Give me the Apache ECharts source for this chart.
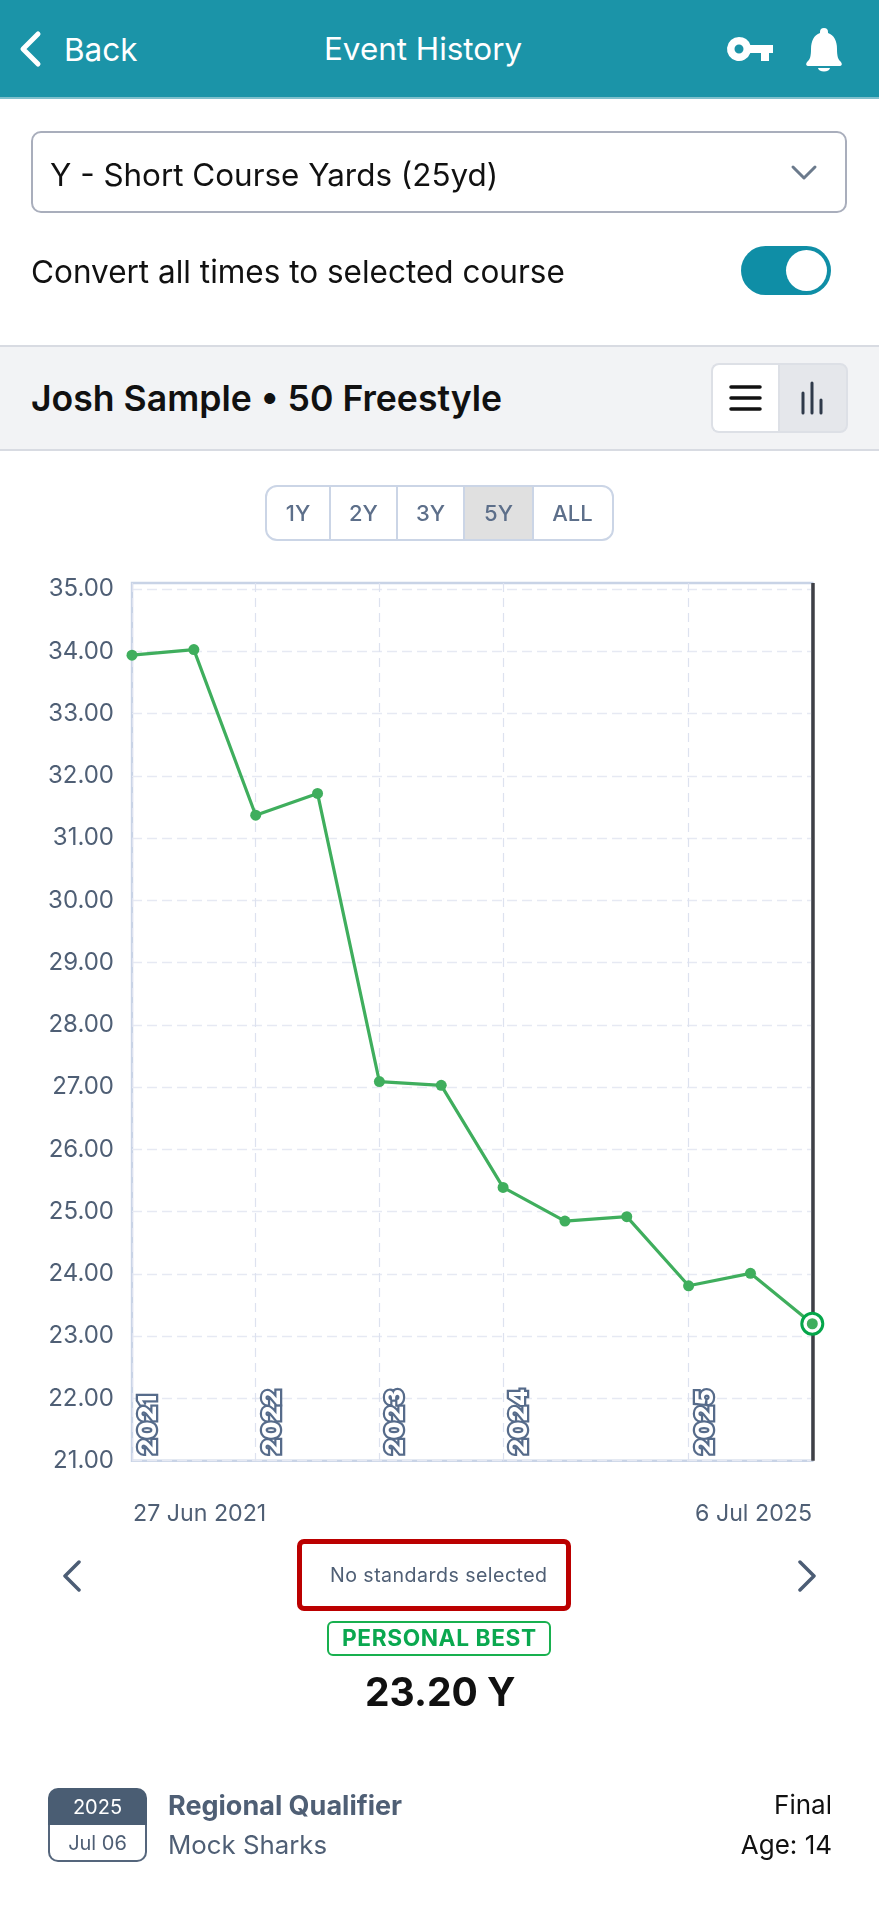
<!DOCTYPE html>
<html><head><meta charset="utf-8">
<script src="https://cdn.jsdelivr.net/npm/echarts@6/dist/echarts.min.js"></script>
<style>
html,body{margin:0;padding:0;background:#fff;width:879px;height:1910px;overflow:hidden;font-family:Inter,sans-serif}
.a{position:absolute;white-space:nowrap}
.t{position:absolute;white-space:nowrap;transform:translateY(-50%);line-height:1}
#chart{position:absolute;left:0;top:0;width:879px;height:1910px}
</style></head><body>
<div id="chart"></div>
<div class="a" style="left:0;top:0;width:879px;height:97px;background:#1b94a8;border-bottom:2px solid #7fc0cc"></div>
<svg class="a" style="left:0;top:0" width="879" height="98">
<path d="M38 34 L23 49 L38 64" fill="none" stroke="#fff" stroke-width="5" stroke-linecap="round" stroke-linejoin="round"/>
<path fill="#fff" fill-rule="evenodd" d="M739 37a12 12 0 0 1 11.3 8H773v8h-4v8h-8v-8h-10.700a12 12 0 1 1-11.300-16zm0 7.500a4.500 4.500 0 1 0 0 9 4.500 4.500 0 0 0 0-9z"/>
<path fill="#fff" d="M824 28a4 4 0 0 1 4 4v1c6 2 9 8 9 16 0 7 1 10 3 12 3 3 2 5-1 5h-30c-3 0-4-2-1-5 2-2 3-5 3-12 0-8 3-14 9-16v-1a4 4 0 0 1 4-4z M818 68h12a6 3.500 0 0 1-12 0z"/>
</svg>
<div class="t" style="left:64px;top:50px;color:#fff;font-size:31.5px;">Back</div>
<div class="t" style="left:324px;top:50px;color:#fff;font-size:31.4px;">Event History</div>

<div class="a" style="left:31px;top:131px;width:812px;height:78px;border:2px solid #a9aebc;border-radius:10px"></div>
<div class="t" style="left:50px;top:176px;color:#111;font-size:31.4px;">Y - Short Course Yards (25yd)</div>
<svg class="a" style="left:782px;top:155px" width="40" height="40"><path d="M11 12 L22 23 L33 12" fill="none" stroke="#6b7a8c" stroke-width="3" stroke-linecap="round" stroke-linejoin="round"/></svg>
<div class="t" style="left:31px;top:272px;color:#111;font-size:31.5px;">Convert all times to selected course</div>
<div class="a" style="left:741px;top:246px;width:90px;height:49px;border-radius:25px;background:#0f8ea6"></div>
<div class="a" style="left:786px;top:250px;width:41px;height:41px;border-radius:50%;background:#fff"></div>

<div class="a" style="left:0;top:345px;width:879px;height:102px;background:#f2f3f5;border-top:2px solid #d8dbe2;border-bottom:2px solid #d8dbe2"></div>
<div class="t" style="left:31px;top:399px;color:#111;font-size:35.6px;font-weight:600;">Josh Sample • 50 Freestyle</div>
<div class="a" style="left:711px;top:363px;width:67px;height:66px;background:#fff;border:2px solid #dde0e6;border-right:none;border-radius:8px 0 0 8px"></div>
<div class="a" style="left:778px;top:363px;width:66px;height:66px;background:#e5e7eb;border:2px solid #dde0e6;border-radius:0 8px 8px 0"></div>
<svg class="a" style="left:711px;top:363px" width="135" height="70">
<path d="M20 24H49M20 35H49M20 46H49" stroke="#111" stroke-width="3.500" stroke-linecap="round"/>
<path d="M92 30V50M101 20V50M110 37V50" stroke="#2f3a4a" stroke-width="3" stroke-linecap="round"/>
</svg>

<div class="a" style="left:265px;top:485px;width:345px;height:52px;border:2px solid #cbd5e6;border-radius:12px"></div>
<div class="a" style="left:465px;top:487px;width:67px;height:52px;background:#e0e0e0"></div>
<div class="a" style="left:329px;top:486px;width:2px;height:54px;background:#cbd5e6"></div>
<div class="a" style="left:396px;top:486px;width:2px;height:54px;background:#cbd5e6"></div>
<div class="a" style="left:463px;top:486px;width:2px;height:54px;background:#cbd5e6"></div>
<div class="a" style="left:532px;top:486px;width:2px;height:54px;background:#cbd5e6"></div>
<div class="t" style="left:267px;width:62px;text-align:center;top:513px;color:#5d6f8a;font-size:22px;font-weight:500">1Y</div>
<div class="t" style="left:331px;width:65px;text-align:center;top:513px;color:#5d6f8a;font-size:22px;font-weight:500">2Y</div>
<div class="t" style="left:398px;width:65px;text-align:center;top:513px;color:#5d6f8a;font-size:22px;font-weight:500">3Y</div>
<div class="t" style="left:465px;width:67px;text-align:center;top:513px;color:#5d6f8a;font-size:22px;font-weight:500">5Y</div>
<div class="t" style="left:534px;width:77px;text-align:center;top:513px;color:#5d6f8a;font-size:22px;font-weight:500">ALL</div>

<svg class="a" style="left:0;top:1550px" width="879" height="50">
<path d="M79 12 L65 26 L79 40 M800 12 L814 26 L800 40" fill="none" stroke="#4c5d75" stroke-width="3.500" stroke-linecap="round" stroke-linejoin="round"/>
</svg>
<div class="a" style="left:297px;top:1539px;width:264px;height:62px;border:5px solid #bb0000;border-radius:7px"></div>
<div class="t" style="left:330px;top:1576px;color:#4f5f75;font-size:19.6px;letter-spacing:.45px">No standards selected</div>
<div class="a" style="left:327px;top:1621px;width:220px;height:31px;border:2px solid #18b04f;border-radius:6px"></div>
<div class="t" style="left:342px;top:1638px;color:#0aa84f;font-size:22.700px;font-weight:700;letter-spacing:.6px">PERSONAL BEST</div>
<div class="t" style="left:365px;top:1691px;color:#111;font-size:39px;font-weight:700">23.20 Y</div>

<div class="a" style="left:48px;top:1788px;width:99px;height:37px;background:#4a5d73;border-radius:10px 10px 0 0"></div>
<div class="a" style="left:48px;top:1825px;width:95px;height:35px;border:2px solid #55667c;border-top:none;border-radius:0 0 10px 10px"></div>
<div class="t" style="left:48px;width:99px;text-align:center;top:1807px;color:#fff;font-size:20px">2025</div>
<div class="t" style="left:48px;width:99px;text-align:center;top:1843px;color:#4f5f75;font-size:20px">Jul 06</div>
<div class="t" style="left:168px;top:1805px;color:#4f5f75;font-size:27px;font-weight:700">Regional Qualifier</div>
<div class="t" style="left:168px;top:1845px;color:#4f5f75;font-size:25.800px">Mock Sharks</div>
<div class="t" style="right:47px;top:1805px;color:#111;font-size:26px">Final</div>
<div class="t" style="right:47px;top:1845px;color:#111;font-size:26px">Age: 14</div>

<script>
const yearCategories = ['2021','','2022','','2023','','2024','','','2025','',''];
const times = [33.94,34.03,31.37,31.72,27.09,27.03,25.39,24.85,24.92,23.81,24.01,23.20];
const yTickLabels = ['21.00','22.00','23.00','24.00','25.00','26.00','27.00','28.00','29.00','30.00','31.00','32.00','33.00','34.00','35.00'];
const rangeLabels = ['27 Jun 2021','6 Jul 2025'];
const lastIndex = times.length - 1;
const green = '#3fae5d';

const chart = echarts.init(document.getElementById('chart'),null,{renderer:'canvas'});
chart.setOption({
  animation:false,
  textStyle:{fontFamily:'Inter'},
  grid:{left:132,top:583,right:66.7,bottom:449.3,show:true,borderColor:'#c8d3e6',borderWidth:2.4,backgroundColor:'transparent'},
  xAxis:{
    type:'category',boundaryGap:false,data:yearCategories,
    axisLine:{show:false},axisTick:{show:false},
    splitLine:{show:true,interval:(i,v)=>v!=='',lineStyle:{color:'#dde2ef',width:1.2,type:[9,6]}},
    axisLabel:{
      show:true,inside:true,rotate:90,margin:6,hideOverlap:false,showMinLabel:true,
      interval:(i,v)=>v!=='',
      align:'left',verticalAlign:'top',padding:[4,0,0,0],
      fontFamily:'Inter',fontSize:25,fontWeight:800,lineHeight:25,
      color:'#ffffff',textBorderColor:'#566b8a',textBorderWidth:4.5
    }
  },
  yAxis:{
    type:'value',min:21,max:35.1,interval:1,
    axisLine:{show:false},axisTick:{show:false},
    splitLine:{show:true,showMaxLine:false,lineStyle:{color:'#e6e9f3',width:1.4,type:[10,5]}},
    axisLabel:{
      margin:18,fontFamily:'Inter',fontSize:24,color:'#4f5f75',
      formatter:v=>yTickLabels.includes(v.toFixed(2))&&Number.isInteger(v)?v.toFixed(2):''
    }
  },
  graphic:[
    {type:'text',left:133,top:1503,style:{text:rangeLabels[0],font:'23.2px Inter',fill:'#4f5f75'}},
    {type:'text',right:67,top:1503,style:{text:rangeLabels[1],font:'23.2px Inter',fill:'#4f5f75'}}
  ],
  series:[
    {type:'line',data:times,z:3,clip:false,silent:true,showSymbol:true,showAllSymbol:true,symbol:'circle',symbolSize:11,
     lineStyle:{color:green,width:3.2},itemStyle:{color:green},
     markLine:{silent:true,symbol:'none',z:2,label:{show:false},lineStyle:{color:'#3f4046',width:3.5,type:'solid'},data:[{xAxis:lastIndex}]}},
    {type:'scatter',data:[[lastIndex,times[lastIndex]]],z:4,clip:false,silent:true,symbolSize:21,
     itemStyle:{color:'#fff',borderColor:'#05a64a',borderWidth:3,opacity:1}},
    {type:'scatter',data:[[lastIndex,times[lastIndex]]],z:5,clip:false,silent:true,symbolSize:11,
     itemStyle:{color:green,opacity:1}}
  ]
});
</script>
</body></html>
